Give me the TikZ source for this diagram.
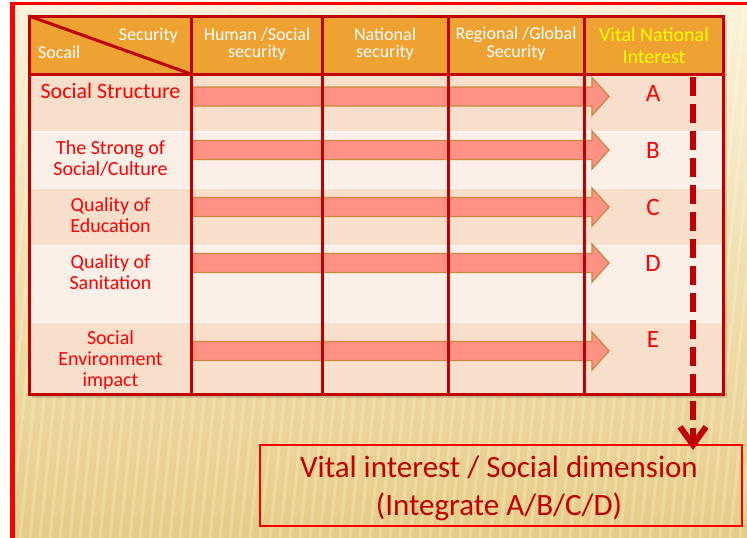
\documentclass[tikz,border=0pt]{standalone}
\usepackage{fontspec}
\setmainfont{Carlito}
\usetikzlibrary{arrows.meta}
\definecolor{framered}{HTML}{FF0000}
\definecolor{dred}{HTML}{C00000}
\definecolor{hdr}{HTML}{EEA232}
\definecolor{rowdark}{HTML}{F8DFCC}
\definecolor{rowlight}{HTML}{FCEFE7}
\definecolor{arrfill}{HTML}{FF9284}
\definecolor{arrdraw}{HTML}{C48A3E}
\definecolor{bgtop}{HTML}{FBF2D8}
\definecolor{bgbot}{HTML}{E6CC85}
\definecolor{vyellow}{HTML}{FFFF00}
\tikzset{
  gridline/.style={draw=dred, line width=3pt},
  blockarr/.style={fill=arrfill, draw=arrdraw, line width=1.3pt, line join=miter},
  hdrtext/.style={text=white, font=\fontsize{18}{17.5}\selectfont, align=center, inner sep=0pt, anchor=base},
  vittext/.style={text=vyellow, font=\fontsize{20}{21}\selectfont, align=center, inner sep=0pt, anchor=base},
  rowlabel/.style={text=framered, font=\fontsize{20}{21}\selectfont, align=center, inner sep=0pt, anchor=base},
  letterlbl/.style={text=framered, font=\fontsize{25}{28}\selectfont, inner sep=0pt, anchor=base},
  vitalbox/.style={draw=framered, line width=2pt, minimum width=482pt, minimum height=81pt, inner sep=0pt},
  vitaltxt/.style={text=dred, font=\fontsize{31}{38}\selectfont, align=center, inner sep=0pt, anchor=base},
  dashconn/.style={draw=dred, line width=6pt, dash pattern=on 19pt off 8pt,
    -{Straight Barb[length=18pt,width=26pt]}}
}
\begin{document}
\begin{tikzpicture}[x=1pt,y=-1pt]
\useasboundingbox (0,0) rectangle (747,538);
% background
\fill[white] (0,0) rectangle (747,538);
\shade[top color=bgtop, bottom color=bgbot] (12,3) rectangle (747,538);
\begin{scope}
  \clip (12,3) rectangle (747,538);
  \foreach \i in {-60,-50,...,800}
    \draw[white, opacity=0.22, line width=3pt] (\i,538) -- ({\i+55},0);
\end{scope}
\fill[framered] (10,2) rectangle (15,538);
\fill[framered] (10,2) rectangle (747,5);
% table shadow and fills
\fill[black, opacity=0.15] (32,19) rectangle (727,398);
\fill[hdr] (29,16) rectangle (723,74);
\fill[rowdark] (29,74) rectangle (723,131);
\fill[rowlight] (29,131) rectangle (723,188);
\fill[rowdark] (29,188) rectangle (723,245);
\fill[rowlight] (29,245) rectangle (723,322);
\fill[rowdark] (29,322) rectangle (723,394);
\foreach \yy in {131,188,245,322}
  \draw[white, line width=1pt, opacity=0.7] (29,\yy) -- (723,\yy);
% block arrows
\foreach \yy in {96.5,150,207,263,351}
  \draw[blockarr] (193,{\yy-9.5}) -- (592,{\yy-9.5}) -- (592,{\yy-19}) -- (609,\yy)
    -- (592,{\yy+19}) -- (592,{\yy+9.5}) -- (193,{\yy+9.5}) -- cycle;
% grid
\draw[gridline] (29,16) rectangle (723,394);
\draw[gridline] (29,74) -- (723,74);
\foreach \xx in {191,322,448,584}
  \draw[gridline] (\xx,16) -- (\xx,394);
\draw[gridline] (29,16) -- (191,74);
% header text
\node[hdrtext, anchor=base east] (hsec) at (178,40) {Security};
\node[hdrtext, anchor=base west] (hsoc) at (38,58) {Socail};
\node[hdrtext] (hhum) at (257,57.5) {Human /Social\\security};
\node[hdrtext] (hnat) at (385,57.5) {National\\security};
\node[hdrtext] (hreg) at (516,57) {Regional /Global\\Security};
\node[vittext] (hvit) at (654,63) {Vital National\\Interest};
% row labels
\node[rowlabel, font=\fontsize{22}{24}\selectfont] (r1) at (110.5,98) {Social Structure};
\node[rowlabel] (r2) at (110.5,175) {The Strong of\\Social/Culture};
\node[rowlabel] (r3) at (110.5,232) {Quality of\\Education};
\node[rowlabel] (r4) at (110.5,289) {Quality of\\Sanitation};
\node[rowlabel] (r5) at (110.5,386) {Social\\Environment\\impact};
% letters
\node[letterlbl] (lA) at (653,101) {A};
\node[letterlbl] (lB) at (653,158) {B};
\node[letterlbl] (lC) at (653,215) {C};
\node[letterlbl] (lD) at (653,271) {D};
\node[letterlbl] (lE) at (653,347) {E};
% bottom box
\node[vitalbox] (vital) at (501,485.5) {};
\node[vitaltxt] (vitaltext) at (499,515) {Vital interest / Social dimension\\(Integrate A/B/C/D)};
% dashed connector
\coordinate (dtop) at (693,77);
\draw[dashconn, shorten >=-6pt] (dtop) -- (vital.north -| dtop);
\end{tikzpicture}
\end{document}
